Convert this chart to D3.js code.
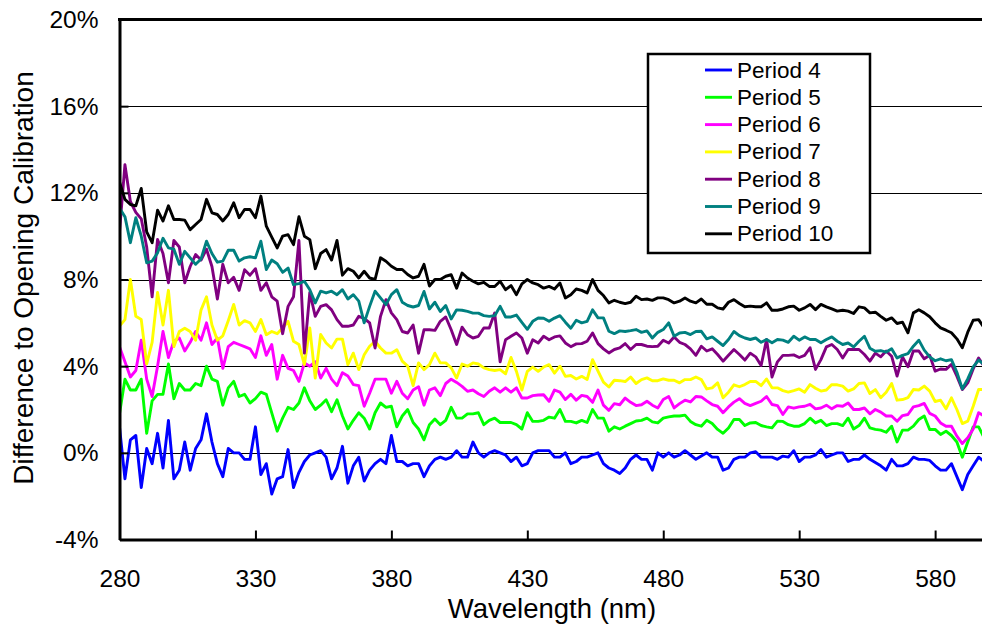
<!DOCTYPE html>
<html>
<head>
<meta charset="utf-8">
<script src="https://cdn.jsdelivr.net/npm/d3@7"></script>
<style>
  html, body { margin: 0; padding: 0; background: #fff; overflow: hidden; }
  text { font-family: "Liberation Sans", Arial, sans-serif; fill: #000; }
</style>
</head>
<body>
<svg id="chart" width="982" height="629"></svg>
<script>
// Sampling grid of the spectra (nm)
const wavelengths = d3.range(280, 600, 2);

// Difference to the opening calibration (%) per period, one value per wavelength
const period4 = [
  1.2, -1.2, 0.6, 0.8, -1.6, 0.2, -0.5, 0.9, -0.7, 1.5,
  -1.2, -0.8, 0.5, -0.8, 0.2, 0.6, 1.8, 0.5, -0.5, -1.1,
  0.2, 0.0, 0.0, -0.3, -0.3, 1.2, -1.0, -0.5, -1.9, -1.2,
  -1.1, 0.15, -1.6, -0.9, -0.4, -0.1, 0.0, 0.1, -0.2, -1.2,
  -0.7, 0.3, -1.4, -0.6, -0.2, -1.3, -0.8, -0.5, -0.3, -0.5,
  0.8, -0.4, -0.4, -0.6, -0.5, -0.5, -1.1, -0.6, -0.3, -0.2,
  -0.3, -0.2, 0.1, -0.2, -0.2, 0.5, 0.0, -0.2, 0.0, 0.1,
  0.0, -0.1, -0.4, -0.2, -0.6, -0.5, 0.0, 0.1, 0.1, 0.1,
  -0.2, -0.2, 0.0, -0.5, -0.4, -0.2, -0.2, -0.1, 0.0, -0.5,
  -0.7, -0.8, -0.95, -0.7, -0.3, -0.1, -0.3, -0.3, -0.8, 0.0,
  -0.2, 0.0, -0.2, -0.1, 0.1, -0.1, -0.3, -0.15, 0.0, -0.2,
  -0.2, -0.8, -0.7, -0.3, -0.2, -0.2, 0.0, 0.05, -0.2, -0.2,
  -0.2, -0.3, -0.15, -0.2, 0.1, -0.4, -0.2, -0.2, -0.1, 0.15,
  -0.2, -0.1, 0.0, 0.0, -0.4, -0.3, -0.3, -0.1, -0.3, -0.45,
  -0.6, -0.8, -0.3, -0.6, -0.6, -0.5, -0.2, -0.3, -0.3, -0.35,
  -0.6, -0.8, -0.8, -0.5, -1.1, -1.7, -1.0, -0.6, -0.2, -0.4
];
const period5 = [
  1.8, 3.4, 2.9, 2.9, 3.4, 0.9, 2.4, 2.7, 2.7, 4.1,
  2.5, 3.2, 2.9, 2.9, 3.2, 3.1, 4.0, 3.4, 3.3, 2.2,
  3.0, 3.3, 2.6, 2.7, 2.3, 2.5, 2.8, 2.7, 1.84, 1.0,
  1.6, 2.1, 2.0, 2.3, 3.0, 2.4, 2.0, 2.2, 2.45, 1.9,
  2.45, 1.7, 1.1, 1.5, 1.85, 1.6, 1.1, 1.85, 2.3, 2.1,
  2.15, 1.2, 1.7, 2.0, 1.4, 1.1, 0.6, 1.3, 1.56, 1.3,
  1.5, 2.1, 1.6, 1.6, 1.8, 1.8, 1.85, 1.3, 1.5, 1.6,
  1.4, 1.4, 1.4, 1.3, 1.1, 1.85, 1.45, 1.45, 1.5, 1.65,
  1.6, 2.0, 1.45, 1.45, 1.38, 1.5, 1.4, 2.0, 1.6, 1.6,
  1.0, 1.2, 1.1, 1.23, 1.35, 1.47, 1.5, 1.6, 1.43, 1.38,
  1.6, 1.66, 1.7, 1.7, 1.74, 1.45, 1.3, 1.23, 1.5, 1.35,
  1.08, 0.9, 1.15, 1.54, 1.54, 1.26, 1.38, 1.4, 1.26, 1.2,
  1.15, 1.46, 1.45, 1.3, 1.23, 1.23, 1.35, 1.6, 1.38, 1.5,
  1.26, 1.35, 1.35, 1.26, 1.6, 1.1, 1.26, 1.6, 1.15, 1.08,
  1.05, 0.95, 1.23, 0.5, 1.05, 1.05, 1.23, 1.54, 1.7, 1.08,
  1.08, 0.85, 1.0, 0.8, 0.5, -0.2, 0.5, 1.2, 1.2, 0.7
];
const period6 = [
  4.9, 4.2, 3.5, 3.8, 5.2, 3.4, 2.6, 4.0, 5.6, 4.4,
  5.15, 5.3, 4.7, 5.1, 5.6, 5.2, 6.0, 5.0, 5.3, 3.9,
  4.9, 5.1, 5.0, 4.9, 4.8, 4.4, 5.4, 4.5, 5.0, 3.4,
  4.5, 3.9, 3.8, 3.3, 4.15, 4.0, 4.2, 3.45, 3.9, 3.4,
  3.1, 3.7, 3.55, 3.15, 3.1, 2.15, 2.75, 3.4, 3.4, 3.4,
  2.75, 3.3, 2.75, 2.5, 2.9, 3.05, 2.2, 2.9, 3.0, 2.64,
  3.2, 3.4, 3.25, 3.07, 2.84, 2.9, 2.73, 2.6, 2.84, 3.0,
  2.8, 3.0, 2.8, 3.0, 2.53, 2.53, 2.64, 2.67, 2.68, 2.38,
  2.9, 2.8, 2.46, 2.7, 2.43, 2.65, 2.6, 2.33, 2.9, 2.2,
  1.96, 2.27, 2.22, 2.53, 2.33, 2.18, 2.22, 2.38, 2.2, 2.07,
  2.46, 2.6, 2.07, 2.27, 2.43, 2.35, 2.6, 2.58, 2.4, 2.23,
  2.15, 1.85, 2.12, 2.34, 2.5, 2.28, 2.18, 2.28, 2.38, 2.6,
  2.23, 2.18, 1.77, 2.12, 2.06, 2.12, 2.15, 2.24, 2.03, 2.07,
  2.2, 2.03, 2.18, 2.15, 2.3, 2.0, 2.0, 2.07, 1.8, 2.0,
  1.88, 1.7, 1.7, 1.46, 1.72, 1.77, 2.12, 2.18, 2.28, 1.82,
  1.7, 1.38, 1.23, 1.23, 0.77, 0.43, 0.7, 1.1, 1.85, 1.7
];
const period7 = [
  5.85, 6.15, 8.0, 6.3, 6.15, 4.1, 5.1, 7.4, 5.9, 7.5,
  4.9, 5.6, 5.75, 5.6, 5.2, 6.6, 7.2, 5.9, 5.2, 5.4,
  6.1, 6.85, 5.9, 6.1, 6.0, 5.6, 6.15, 5.45, 5.6, 5.5,
  5.76, 6.07, 5.15, 5.0, 4.07, 5.76, 3.45, 5.46, 5.07, 4.84,
  5.25, 5.25, 4.07, 4.6, 3.84, 4.53, 4.92, 5.15, 4.84, 4.6,
  4.6, 4.76, 4.23, 4.0, 3.1, 4.15, 3.84, 4.07, 4.6, 4.15,
  4.15, 3.92, 3.45, 4.1, 4.0, 4.15, 4.1, 3.92, 3.84, 3.8,
  3.84, 3.65, 4.4, 3.76, 2.9, 3.76, 3.96, 3.76, 3.96, 4.07,
  3.68, 4.0, 3.53, 3.57, 3.41, 3.53, 3.38, 4.3, 3.77, 3.26,
  3.04, 3.35, 3.33, 3.29, 3.5, 3.2, 3.38, 3.46, 3.33, 3.33,
  3.41, 3.35, 3.35, 3.23, 3.38, 3.38, 3.5, 3.38, 2.95, 3.0,
  3.23, 2.54, 2.8, 3.14, 3.05, 3.15, 3.29, 3.3, 3.1, 3.41,
  3.0, 3.0, 2.87, 2.8, 2.87, 2.95, 2.8, 3.15, 2.98, 2.85,
  2.9, 3.15, 3.14, 3.08, 2.85, 2.95, 3.2, 3.23, 2.74, 2.92,
  2.54, 2.8, 3.2, 2.43, 2.46, 2.55, 2.92, 2.9, 3.08, 2.85,
  2.37, 2.43, 2.03, 2.54, 2.0, 1.35, 1.46, 2.15, 2.92, 2.92
];
const period8 = [
  10.2, 13.3, 11.6, 11.1, 10.8, 9.5, 7.2, 9.85, 9.2, 7.85,
  9.8, 9.5, 7.85, 8.6, 9.15, 8.9, 9.4, 8.6, 7.1, 8.7,
  7.85, 8.1, 7.5, 8.45, 8.2, 8.5, 7.5, 7.85, 7.2, 7.0,
  5.5, 6.76, 7.2, 9.8, 4.6, 7.4, 6.3, 6.76, 6.84, 6.6,
  6.15, 5.84, 5.84, 5.9, 6.3, 6.2, 6.0, 4.84, 6.3, 7.07,
  6.46, 6.15, 5.6, 5.53, 5.9, 4.6, 5.68, 5.68, 5.65, 6.07,
  6.27, 5.68, 5.0, 5.8, 5.45, 5.3, 5.38, 5.76, 5.76, 6.45,
  4.2, 5.22, 5.38, 5.53, 5.3, 4.6, 5.22, 5.07, 5.38, 5.22,
  5.35, 5.4, 5.07, 4.9, 5.03, 5.04, 5.15, 5.53, 5.04, 4.8,
  4.61, 4.77, 4.84, 5.04, 4.77, 5.0, 5.0, 4.92, 4.9, 4.92,
  5.2, 5.07, 5.35, 5.1, 5.0, 4.8, 4.5, 4.92, 4.7, 4.8,
  4.54, 4.23, 4.5, 4.77, 4.54, 4.28, 4.6, 4.43, 4.03, 5.23,
  3.5, 4.2, 4.5, 4.5, 4.52, 4.4, 4.5, 4.85, 3.85, 4.3,
  4.89, 5.0, 4.77, 4.38, 4.77, 4.77, 4.77, 4.54, 4.23, 4.6,
  4.43, 4.7, 4.46, 3.54, 4.43, 3.97, 4.7, 4.7, 4.34, 4.5,
  3.77, 3.87, 3.85, 4.08, 3.54, 2.92, 3.23, 3.87, 4.38, 4.0
];
const period9 = [
  11.3, 10.9, 9.7, 10.85, 10.0, 8.77, 8.85, 9.23, 9.9, 9.46,
  9.4, 8.7, 9.3, 9.0, 8.7, 8.95, 9.77, 9.2, 8.8, 8.85,
  9.35, 9.35, 8.85, 9.0, 9.05, 9.0, 9.77, 8.46, 8.9, 8.73,
  8.33, 8.53, 7.76, 7.81, 7.92, 7.53, 6.92, 7.46, 7.38, 7.46,
  7.3, 7.53, 7.1, 7.3, 7.0, 6.0, 6.76, 7.46, 7.15, 6.84,
  7.3, 7.53, 6.95, 6.8, 6.73, 6.8, 7.45, 6.64, 6.95, 6.52,
  6.8, 6.18, 6.6, 6.58, 6.53, 6.45, 6.45, 6.33, 6.3, 6.33,
  6.76, 6.27, 6.27, 6.36, 6.02, 5.7, 6.07, 6.22, 6.21, 6.07,
  6.22, 6.33, 6.03, 5.75, 6.12, 6.0, 6.07, 6.6, 6.23, 6.23,
  5.61, 5.5, 5.63, 5.6, 5.64, 5.69, 5.56, 5.63, 5.3, 5.56,
  5.69, 6.0, 5.38, 5.53, 5.56, 5.46, 5.6, 5.61, 5.26, 5.35,
  5.15, 4.95, 5.23, 5.6, 5.41, 5.3, 5.23, 5.3, 5.1, 5.23,
  5.08, 5.23, 5.2, 5.1, 5.38, 5.2, 5.35, 5.23, 5.23, 5.08,
  5.23, 5.35, 5.15, 5.0, 5.07, 4.89, 5.15, 5.38, 4.83, 4.69,
  4.72, 4.65, 4.8, 4.38, 4.5, 4.58, 4.92, 5.2, 4.74, 4.43,
  4.25, 4.34, 4.25, 4.3, 3.72, 2.95, 3.41, 3.97, 4.28, 4.08
];
const period10 = [
  12.5, 11.7, 11.46, 11.4, 12.2, 10.2, 9.7, 11.2, 10.7, 11.4,
  10.77, 10.77, 10.74, 10.3, 10.54, 10.77, 11.7, 11.08, 11.0, 10.7,
  11.0, 11.54, 10.85, 11.23, 11.23, 10.85, 11.85, 10.46, 9.96, 9.46,
  10.0, 10.07, 9.61, 10.9, 10.0, 9.84, 8.5, 9.2, 9.38, 8.9,
  9.8, 8.2, 8.5, 8.38, 8.07, 8.38, 8.07, 8.0, 9.0, 8.84,
  8.61, 8.46, 8.46, 8.23, 8.07, 8.15, 8.7, 7.7, 8.0, 8.0,
  8.15, 8.22, 7.6, 8.3, 8.07, 7.92, 7.8, 7.87, 7.68, 7.68,
  7.92, 7.53, 7.72, 7.3, 7.8, 8.0, 7.84, 7.76, 7.6, 7.68,
  7.56, 7.84, 7.15, 7.3, 7.56, 7.5, 7.38, 8.0, 7.5, 7.26,
  6.92, 7.04, 6.95, 6.89, 6.95, 7.23, 7.07, 7.1, 7.04, 7.15,
  7.15, 7.07, 6.92, 7.0, 7.15, 7.0, 6.92, 7.1, 6.86, 6.86,
  6.69, 6.64, 6.95, 7.07, 6.89, 6.74, 6.77, 6.74, 6.74, 6.92,
  6.58, 6.58, 6.64, 6.74, 6.77, 6.58, 6.69, 6.85, 6.61, 6.85,
  6.74, 6.64, 6.54, 6.58, 6.54, 6.43, 6.74, 6.69, 6.46, 6.49,
  6.3, 6.12, 6.23, 5.97, 6.03, 5.54, 6.46, 6.6, 6.46, 6.28,
  6.0, 5.77, 5.66, 5.54, 5.26, 4.85, 5.57, 6.12, 6.15, 5.77
];

const seriesNames = ["Period 4", "Period 5", "Period 6", "Period 7", "Period 8", "Period 9", "Period 10"];
const seriesValues = [period4, period5, period6, period7, period8, period9, period10];
const seriesColors = ["#0000FF", "#00FF00", "#FF00FF", "#FFFF00", "#800080", "#008080", "#000000"];

const xTicks = [280, 330, 380, 430, 480, 530, 580];
const yTicks = [-4, 0, 4, 8, 12, 16, 20];

const W = 982, H = 629;
const plot = { left: 119.5, top: 19.5, bottom: 539.5, right: 989.5 };

const svg = d3.select("#chart");
const x = d3.scaleLinear().domain([280, 600]).range([plot.left, plot.right]);
const y = d3.scaleLinear().domain([-4, 20]).range([plot.bottom, plot.top]);

svg.append("rect").attr("width", W).attr("height", H).attr("fill", "#fff");

svg.append("defs").append("clipPath").attr("id", "plotClip")
  .append("rect")
  .attr("x", plot.left).attr("y", plot.top)
  .attr("width", plot.right - plot.left).attr("height", plot.bottom - plot.top);

// Horizontal gridlines
svg.append("g").selectAll("line")
  .data(yTicks.filter(d => d > -4 && d < 20))
  .join("line")
  .attr("x1", plot.left).attr("x2", W)
  .attr("y1", d => Math.round(y(d)) + 0.5).attr("y2", d => Math.round(y(d)) + 0.5)
  .attr("stroke", "#000").attr("stroke-width", 1.2);

// Spectra
const line = d3.line()
  .x((d, i) => x(wavelengths[i]))
  .y(d => y(d));

svg.append("g").attr("clip-path", "url(#plotClip)")
  .selectAll("path")
  .data(seriesValues)
  .join("path")
  .attr("d", d => line(d))
  .attr("fill", "none")
  .attr("stroke", (d, i) => seriesColors[i])
  .attr("stroke-width", 2.9)
  .attr("stroke-linejoin", "round");

// X axis (ticks point into the plot)
const xAxis = svg.append("g")
  .attr("transform", `translate(0,${plot.bottom})`)
  .call(d3.axisBottom(x).tickValues(xTicks).tickSize(-9).tickSizeOuter(0).tickPadding(30).tickFormat(d3.format("d")));
xAxis.select(".domain").attr("stroke", "#000").attr("stroke-width", 3);
xAxis.selectAll(".tick line").attr("stroke", "#000").attr("stroke-width", 2);
xAxis.selectAll(".tick text").attr("font-size", 24.5).attr("font-family", "Liberation Sans, Arial, sans-serif");

// Y axis
const yAxis = svg.append("g")
  .attr("transform", `translate(${plot.left},0)`)
  .call(d3.axisLeft(y).tickValues(yTicks).tickSize(-9).tickSizeOuter(0).tickPadding(21).tickFormat(d => d + "%"));
yAxis.select(".domain").attr("stroke", "#000").attr("stroke-width", 3);
yAxis.selectAll(".tick line").attr("stroke", "#000").attr("stroke-width", 2);
yAxis.selectAll(".tick text").attr("font-size", 24.5).attr("font-family", "Liberation Sans, Arial, sans-serif");

// Top border of the plot area
svg.append("line")
  .attr("x1", plot.left - 1.5).attr("x2", W)
  .attr("y1", plot.top).attr("y2", plot.top)
  .attr("stroke", "#000").attr("stroke-width", 3);

// Axis titles
svg.append("text")
  .attr("x", 552).attr("y", 608)
  .attr("text-anchor", "middle").attr("dominant-baseline", "central")
  .attr("font-size", 27.5)
  .text("Wavelength (nm)");

svg.append("text")
  .attr("transform", "translate(23,278) rotate(-90)")
  .attr("text-anchor", "middle").attr("dominant-baseline", "central")
  .attr("font-size", 28)
  .text("Difference to Opening Calibration");

// Legend
const legend = svg.append("g").attr("transform", "translate(648,54)");
legend.append("rect")
  .attr("width", 222).attr("height", 199)
  .attr("fill", "#fff").attr("stroke", "#000").attr("stroke-width", 2.5);
const rows = legend.selectAll("g.row")
  .data(seriesNames)
  .join("g").attr("class", "row")
  .attr("transform", (d, i) => `translate(0,${16 + i * 27.3})`);
rows.append("line")
  .attr("x1", 57).attr("x2", 84)
  .attr("stroke", (d, i) => seriesColors[i]).attr("stroke-width", 2.9);
rows.append("text")
  .attr("x", 89).attr("dominant-baseline", "central")
  .attr("font-size", 22.5)
  .text(d => d);
</script>
</body>
</html>
